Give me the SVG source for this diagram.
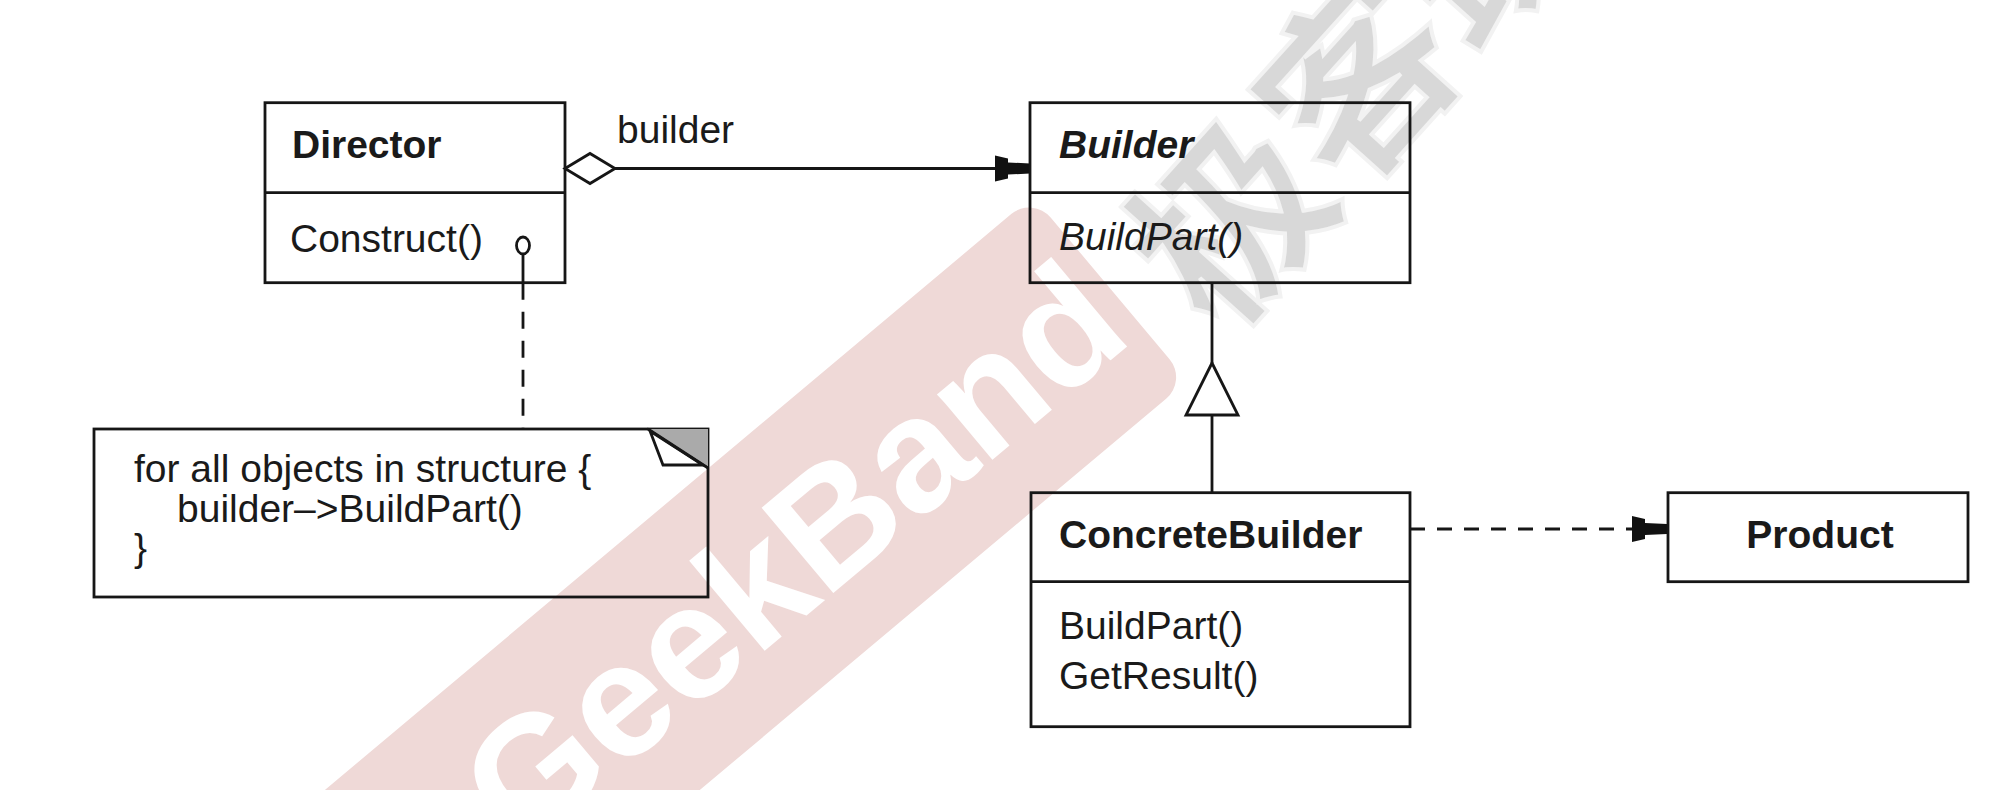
<svg xmlns="http://www.w3.org/2000/svg" width="2010" height="790" viewBox="0 0 2010 790">
<style>
.box{fill:none;stroke:#161616;stroke-width:2.8}
.t{font-family:"Liberation Sans",Arial,Helvetica,sans-serif;font-size:39px;fill:#1a1a1a}
.b{font-weight:bold}
.i{font-style:italic}
.ln{stroke:#161616;stroke-width:2.8;fill:none}
.dash{stroke-dasharray:15 12}
.vdash{stroke-dasharray:17 12}
.wm{font-family:"Liberation Sans",Arial,sans-serif;font-weight:bold;fill:#ffffff}
.wmcjk{font-family:"Noto Sans CJK SC","Noto Sans",sans-serif;font-weight:bold;fill:#d8d8d8;stroke:#f2f2f2;stroke-width:4}
</style>
<defs>
<marker id="arrow" markerUnits="userSpaceOnUse" markerWidth="36" markerHeight="28" refX="35" refY="13" orient="auto" overflow="visible">
<path d="M0,0 L13,3 L13,7 L35,8 L35,18 L13,19 L13,23 L0,26 Z" fill="#111"/>
</marker>
<marker id="diamond" markerUnits="userSpaceOnUse" markerWidth="52" markerHeight="32" refX="0" refY="15" orient="auto" overflow="visible">
<path d="M0,15 L25,0 L50,15 L25,30 Z" fill="#fff" stroke="#161616" stroke-width="2.8"/>
</marker>
</defs>
<rect width="2010" height="790" fill="#fff"/>
<g id="watermark">
<rect x="-320" y="814" width="985" height="241" rx="28" fill="#efd9d7" transform="rotate(-40)"/>
<text class="wm" x="-150" y="990" font-size="162" transform="rotate(-40)">GeekBand</text>
<text class="wmcjk" x="565" y="1133" font-size="190" transform="rotate(-48)">极客班</text>
</g>
<g id="connectors">
<path class="ln" d="M565,168.5 H1030" marker-start="url(#diamond)" marker-end="url(#arrow)"/>
<text class="t" x="617" y="143">builder</text>
<path class="ln dash" d="M1410,529 H1667" marker-end="url(#arrow)"/>
<line class="ln" x1="1212" y1="282.7" x2="1212" y2="363"/>
<polygon class="ln" points="1212,363 1186,415 1238,415"/>
<line class="ln" x1="1212" y1="415" x2="1212" y2="492.7"/>
<ellipse class="ln" cx="523" cy="245.5" rx="6.5" ry="8.5" fill="#fff"/>
<line class="ln" x1="523" y1="254" x2="523" y2="282.7"/>
<line class="ln vdash" x1="523" y1="282.7" x2="523" y2="429"/>
</g>
<g id="director">
<rect class="box" x="265" y="102.7" width="300" height="180"/>
<line class="ln" x1="265" y1="192.7" x2="565" y2="192.7"/>
<text class="t b" x="292" y="158">Director</text>
<text class="t" x="290" y="252">Construct()</text>
</g>
<g id="builder">
<rect class="box" x="1030" y="102.7" width="380" height="180"/>
<line class="ln" x1="1030" y1="192.7" x2="1410" y2="192.7"/>
<text class="t b i" x="1059" y="158">Builder</text>
<text class="t i" x="1059" y="250">BuildPart()</text>
</g>
<g id="concretebuilder">
<rect class="box" x="1031" y="492.7" width="379" height="234"/>
<line class="ln" x1="1031" y1="581.7" x2="1410" y2="581.7"/>
<text class="t b" x="1059" y="548">ConcreteBuilder</text>
<text class="t" x="1059" y="639">BuildPart()</text>
<text class="t" x="1059" y="689">GetResult()</text>
</g>
<g id="product">
<rect class="box" x="1668" y="492.7" width="300" height="89"/>
<text class="t b" x="1820" y="548" text-anchor="middle">Product</text>
</g>
<g id="note">
<rect class="box" x="94" y="429" width="614" height="168"/>
<polygon points="648,429 708,429 708,468" fill="#aaaaaa" stroke="none"/>
<line class="ln" x1="648" y1="429" x2="708" y2="468"/>
<polygon class="ln" points="650,431 663,465 703,465" fill="#fff"/>
<text class="t" x="134" y="482">for all objects in structure {</text>
<text class="t" x="177" y="522">builder–&gt;BuildPart()</text>
<text class="t" x="134" y="561">}</text>
</g>
</svg>
